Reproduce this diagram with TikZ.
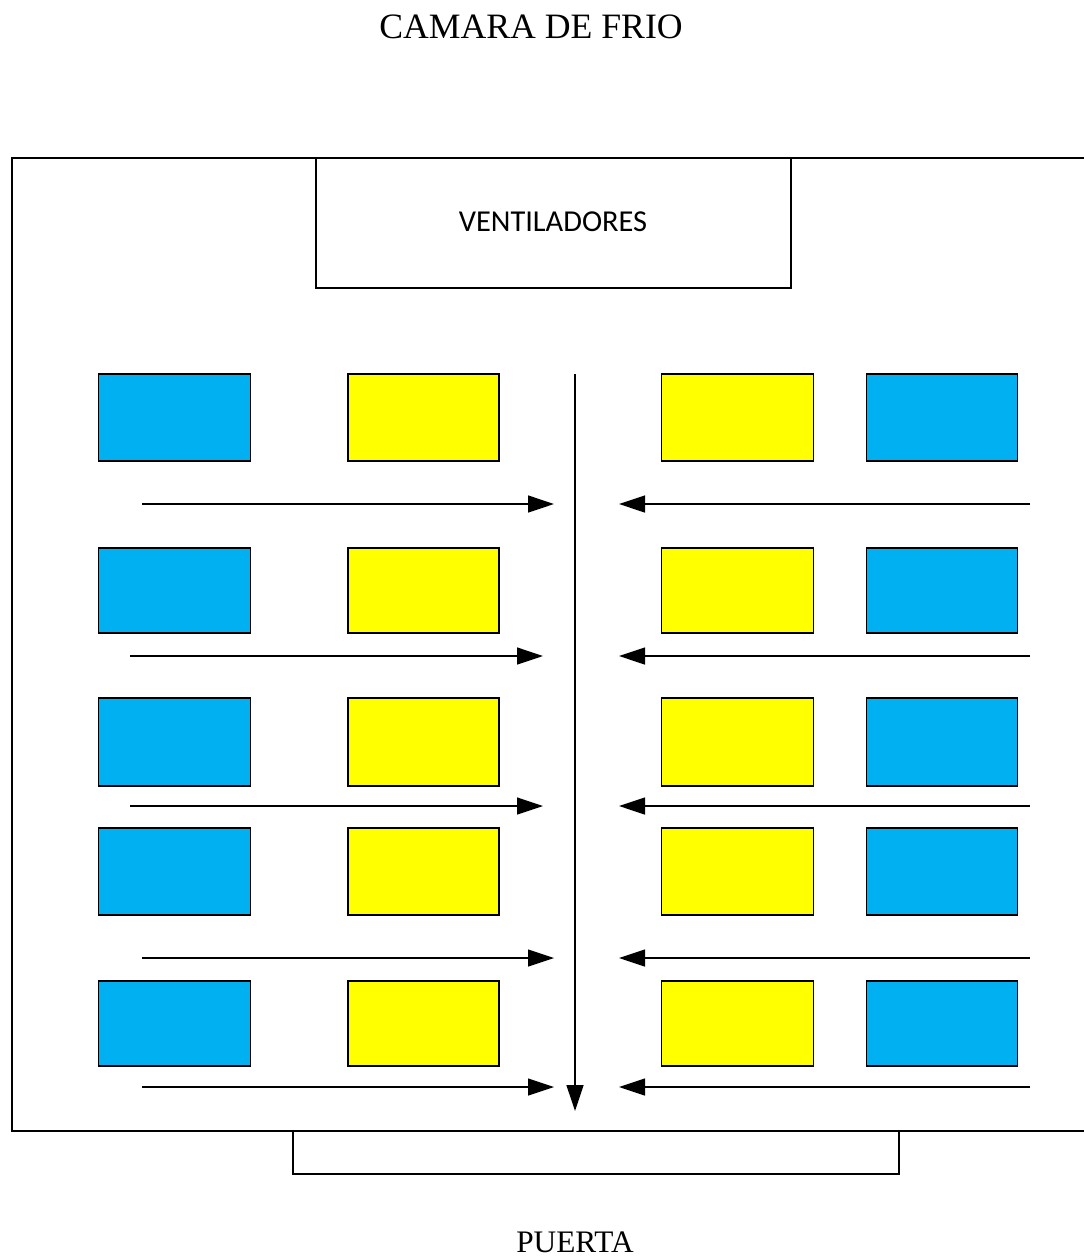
\documentclass[tikz,border=0pt]{standalone}
\usepackage{fontspec}
\setmainfont{Liberation Serif}
\newfontfamily\calibri{Carlito}
\usetikzlibrary{arrows.meta}
\definecolor{cblue}{HTML}{00B0F0}
\definecolor{cyellow}{HTML}{FFFF00}
\begin{document}
\begin{tikzpicture}[x=1pt,y=-1pt,
  line width=1.5pt,
  pal/.style={draw=black, line width=1.5pt, inner sep=0pt, outer sep=0pt, minimum width=152pt, minimum height=87pt},
  bluebox/.style={pal, fill=cblue},
  yelbox/.style={pal, fill=cyellow},
  flow/.style={line width=1.3pt, -{Triangle[length=26pt,width=17pt]}},
  lbl/.style={inner sep=0pt, anchor=center}]
\useasboundingbox (0,0) rectangle (1084,1258);
\node[lbl, font=\fontsize{35.7}{38}\selectfont] (title) at (531,27) {CAMARA DE FRIO};
% outer chamber
\draw[line width=1.5pt] (1084,158) -- (12,158) -- (12,1131) -- (1084,1131);
% fans
\node[draw, line width=1.5pt, inner sep=0pt, minimum width=475pt, minimum height=130pt] (vent) at (553.5,223) {};
\node[lbl, font=\calibri\fontsize{30.4}{32}\selectfont] (ventlbl) at (553,222) {VENTILADORES};
% door
\node[draw, line width=1.5pt, inner sep=0pt, minimum width=606pt, minimum height=43pt] (door) at (596,1152.5) {};
\node[lbl, font=\fontsize{31.3}{33}\selectfont] (puerta) at (575,1242) {PUERTA};
% pallets
\foreach \r/\y/\h in {1/417.5/87, 2/590.5/85, 3/742/88, 4/871.5/87, 5/1023.5/85}{
  \node[bluebox, minimum height=\h pt] (b1\r) at (174.5,\y) {};
  \node[yelbox, minimum width=151pt, minimum height=\h pt] (y1\r) at (423.5,\y) {};
  \node[yelbox, minimum height=\h pt] (y2\r) at (737.5,\y) {};
  \node[bluebox, minimum width=151pt, minimum height=\h pt] (b2\r) at (942,\y) {};
}
% central flow
\coordinate (vtop) at (575,374);
\coordinate (vbot) at (575,1111);
\draw[flow] (vtop) -- (vbot);
% horizontal flows
\foreach \r/\y/\xs/\xe in {1/504/142/554, 2/656/130/543, 3/806/130/543, 4/958/142/554, 5/1087/142/554}{
  \coordinate (ls\r) at (\xs,\y);
  \coordinate (le\r) at (\xe,\y);
  \coordinate (rs\r) at (1030,\y);
  \coordinate (re\r) at (619,\y);
  \draw[flow] (ls\r) -- (le\r);
  \draw[flow] (rs\r) -- (re\r);
}
\end{tikzpicture}
\end{document}
